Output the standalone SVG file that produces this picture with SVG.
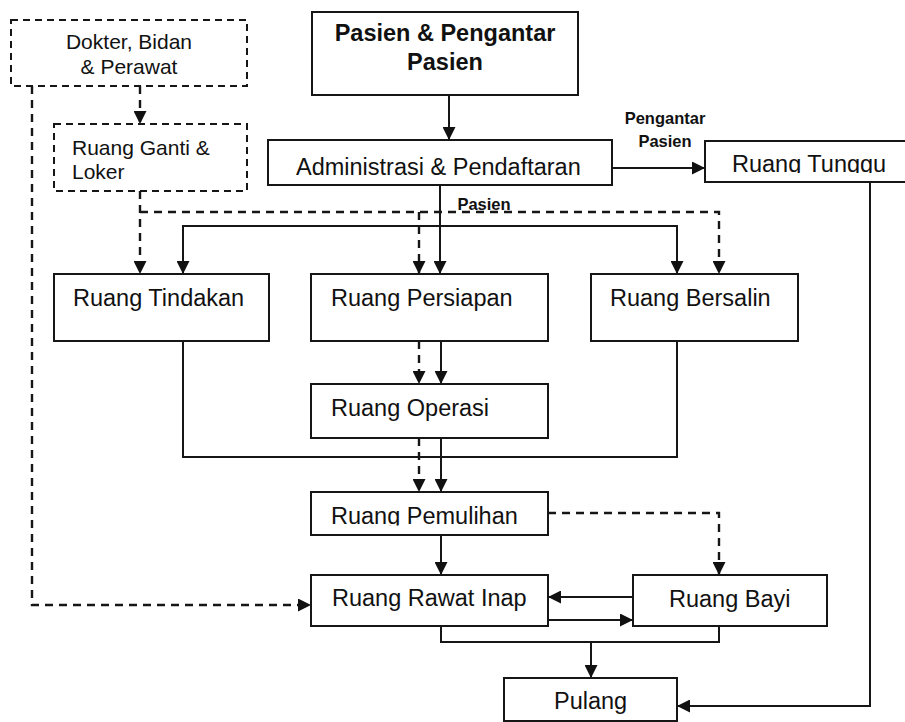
<svg xmlns="http://www.w3.org/2000/svg" width="905" height="722" viewBox="0 0 905 722">
  <style>
    .box { fill: #fff; stroke: #161616; stroke-width: 2; }
    .dbox { fill: #fff; stroke: #161616; stroke-width: 2; stroke-dasharray: 7 5; }
    .t { font-family: "Liberation Sans", Arial, sans-serif; font-size: 23.5px; fill: #111; }
    .ts { font-family: "Liberation Sans", Arial, sans-serif; font-size: 21px; fill: #111; }
    .tb { font-family: "Liberation Sans", Arial, sans-serif; font-size: 23.5px; font-weight: bold; fill: #111; }
    .lbl { font-family: "Liberation Sans", Arial, sans-serif; font-size: 16.5px; font-weight: bold; fill: #111; }
    .c { fill: none; stroke: #161616; stroke-width: 2; }
    .d { fill: none; stroke: #161616; stroke-width: 2.4; stroke-dasharray: 8 6; }
  </style>
  <defs>
    <marker id="ah" viewBox="0 0 13 13" refX="13" refY="6.5" markerWidth="13" markerHeight="13" markerUnits="userSpaceOnUse" orient="auto">
      <path d="M0,0 L13,6.5 L0,13 Z" fill="#111"/>
    </marker>
    <clipPath id="clipTunggu"><rect x="705" y="141" width="200" height="32"/></clipPath>
    <clipPath id="clipPemulihan"><rect x="311" y="492" width="237" height="33.5"/></clipPath>
  </defs>
  <rect width="905" height="722" fill="#fff"/>

  <!-- connectors -->
  <g id="connectors">
    <!-- staff route (dashed) -->
    <path class="d" d="M140,86 V124" marker-end="url(#ah)"/>
    <path class="d" d="M140,191 V274" marker-end="url(#ah)"/>
    <path class="d" d="M140,212 H719 V274" marker-end="url(#ah)"/>
    <path class="d" d="M419,212 V274" marker-end="url(#ah)"/>
    <path class="d" d="M32,86 V605 H311" marker-end="url(#ah)"/>
    <path class="d" d="M419,341 V384" marker-end="url(#ah)"/>
    <path class="d" d="M419,438 V492" marker-end="url(#ah)"/>
    <path class="d" d="M548,513 H719 V575" marker-end="url(#ah)"/>

    <!-- patient route (solid) -->
    <path class="c" d="M449,95 V140" marker-end="url(#ah)"/>
    <path class="c" d="M612,168 H705" marker-end="url(#ah)"/>
    <path class="c" d="M440,185 V274" marker-end="url(#ah)"/>
    <path class="c" d="M440,226 H183 V274" marker-end="url(#ah)"/>
    <path class="c" d="M440,226 H677 V274" marker-end="url(#ah)"/>
    <path class="c" d="M441,341 V384" marker-end="url(#ah)"/>
    <path class="c" d="M183,341 V457 H677 V341"/>
    <path class="c" d="M441,438 V492" marker-end="url(#ah)"/>
    <path class="c" d="M441,535 V575" marker-end="url(#ah)"/>
    <path class="c" d="M633,597 H548" marker-end="url(#ah)"/>
    <path class="c" d="M548,620 H633" marker-end="url(#ah)"/>
    <path class="c" d="M441,626 V642 H719 V626"/>
    <path class="c" d="M591,642 V678" marker-end="url(#ah)"/>
    <path class="c" d="M870,182 V706 H677" marker-end="url(#ah)"/>

    <text class="lbl" x="665" y="124" text-anchor="middle">Pengantar</text>
    <text class="lbl" x="665" y="147" text-anchor="middle">Pasien</text>
    <text class="lbl" x="484" y="210" text-anchor="middle">Pasien</text>
  </g>

  <g id="dokter">
    <rect class="dbox" x="11" y="20" width="236" height="66"/>
    <text class="ts" x="129" y="49" text-anchor="middle">Dokter, Bidan</text>
    <text class="ts" x="129" y="74" text-anchor="middle">&amp; Perawat</text>
  </g>

  <g id="ruang-ganti">
    <rect class="dbox" x="54" y="124" width="193" height="67"/>
    <text class="ts" x="72" y="155">Ruang Ganti &amp;</text>
    <text class="ts" x="72" y="179">Loker</text>
  </g>

  <g id="pasien">
    <rect class="box" x="312" y="12" width="266" height="83"/>
    <text class="tb" x="445" y="41" text-anchor="middle">Pasien &amp; Pengantar</text>
    <text class="tb" x="445" y="70" text-anchor="middle">Pasien</text>
  </g>

  <g id="administrasi">
    <rect class="box" x="268" y="140" width="344" height="45"/>
    <text class="t" x="296" y="175">Administrasi &amp; Pendaftaran</text>
  </g>

  <g id="ruang-tunggu">
    <rect class="box" x="705" y="141" width="210" height="41"/>
    <text class="t" x="732" y="172" clip-path="url(#clipTunggu)">Ruang Tunggu</text>
  </g>

  <g id="ruang-tindakan">
    <rect class="box" x="54" y="274" width="215" height="67"/>
    <text class="t" x="73" y="306">Ruang Tindakan</text>
  </g>

  <g id="ruang-persiapan">
    <rect class="box" x="311" y="274" width="237" height="67"/>
    <text class="t" x="331" y="306">Ruang Persiapan</text>
  </g>

  <g id="ruang-bersalin">
    <rect class="box" x="591" y="274" width="207" height="67"/>
    <text class="t" x="610" y="306">Ruang Bersalin</text>
  </g>

  <g id="ruang-operasi">
    <rect class="box" x="311" y="384" width="237" height="54"/>
    <text class="t" x="331" y="416">Ruang Operasi</text>
  </g>

  <g id="ruang-pemulihan">
    <rect class="box" x="311" y="492" width="237" height="43"/>
    <text class="t" x="331" y="524" clip-path="url(#clipPemulihan)">Ruang Pemulihan</text>
  </g>

  <g id="ruang-rawat-inap">
    <rect class="box" x="311" y="575" width="237" height="51"/>
    <text class="t" x="332" y="606">Ruang Rawat Inap</text>
  </g>

  <g id="ruang-bayi">
    <rect class="box" x="633" y="575" width="194" height="51"/>
    <text class="t" x="669" y="607">Ruang Bayi</text>
  </g>

  <g id="pulang">
    <rect class="box" x="504" y="678" width="173" height="43"/>
    <text class="t" x="554" y="709">Pulang</text>
  </g>
</svg>
